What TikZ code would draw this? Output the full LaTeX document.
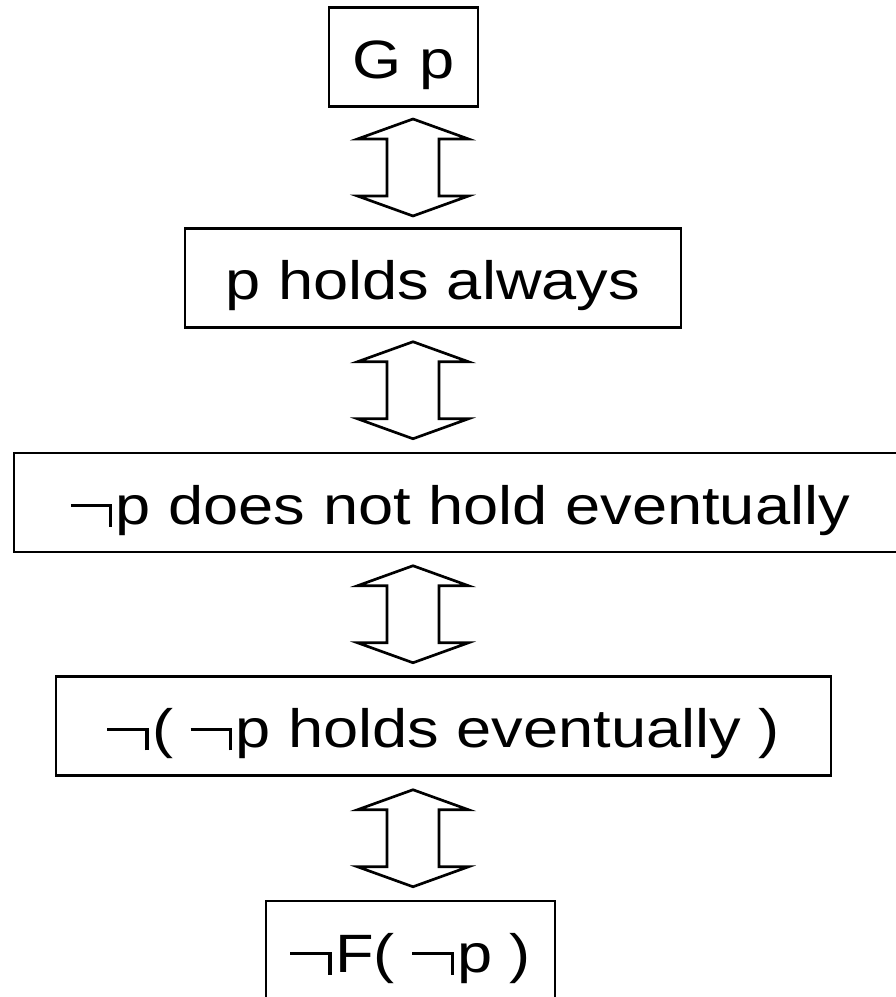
\documentclass[tikz,border=0pt]{standalone}
\usepackage{fontspec}
\setmainfont{Liberation Sans}[FakeStretch=1.17]
\usetikzlibrary{calc}
\tikzset{
  stmt/.style={draw, line width=1.9pt, inner xsep=0pt, inner ysep=0pt,
    text height=50.5pt, text depth=19.9pt, font=\fontsize{38.4}{46}\selectfont},
  eqarrow/.style={draw, line width=1.9pt, line join=miter}
}
\newcommand{\notsign}{\makebox[32pt][l]{\rule[12pt]{29.5pt}{2.2pt}\kern-2.2pt\rule[-2pt]{2.2pt}{16.2pt}}}
\newcommand{\eqarrow}[1]{%
  \draw[eqarrow] (#1) ++(0,-48.5) -- ++(55.5,20) -- ++(-29.5,0) -- ++(0,57)
    -- ++(29.5,0) -- ++(-55.5,20) -- ++(-55.5,-20) -- ++(29.5,0) -- ++(0,-57)
    -- ++(-29.5,0) -- cycle;}
\begin{document}
\begin{tikzpicture}[x=0.025cm, y=-0.025cm]
            \useasboundingbox (0,0) rectangle (895,997);
            % statements
            \node[stmt, minimum width=3.725cm] (gp) at (403.5,57) {G p};
            \node[stmt, minimum width=12.4cm] (always) at (433,278) {p holds always};
            \node[stmt, minimum width=22.325cm] (notev) at (460.5,502.5) {\notsign p does not hold eventually};
            \node[stmt, minimum width=19.375cm] (negev) at (443.5,726) {\notsign( \notsign p holds eventually )};
            \node[stmt, minimum width=7.225cm] (nfnp) at (410.5,950.5) {\notsign F( \notsign p )};
            % equivalences
            \coordinate (ax) at (413,0);
            \coordinate (e1) at ($(gp.south)!0.5!(always.north)$);
            \coordinate (e2) at ($(always.south)!0.5!(notev.north)$);
            \coordinate (e3) at ($(notev.south)!0.5!(negev.north)$);
            \coordinate (e4) at ($(negev.south)!0.5!(nfnp.north)$);
            \eqarrow{e1 -| ax}
            \eqarrow{e2 -| ax}
            \eqarrow{e3 -| ax}
            \eqarrow{e4 -| ax}
\end{tikzpicture}
\end{document}
